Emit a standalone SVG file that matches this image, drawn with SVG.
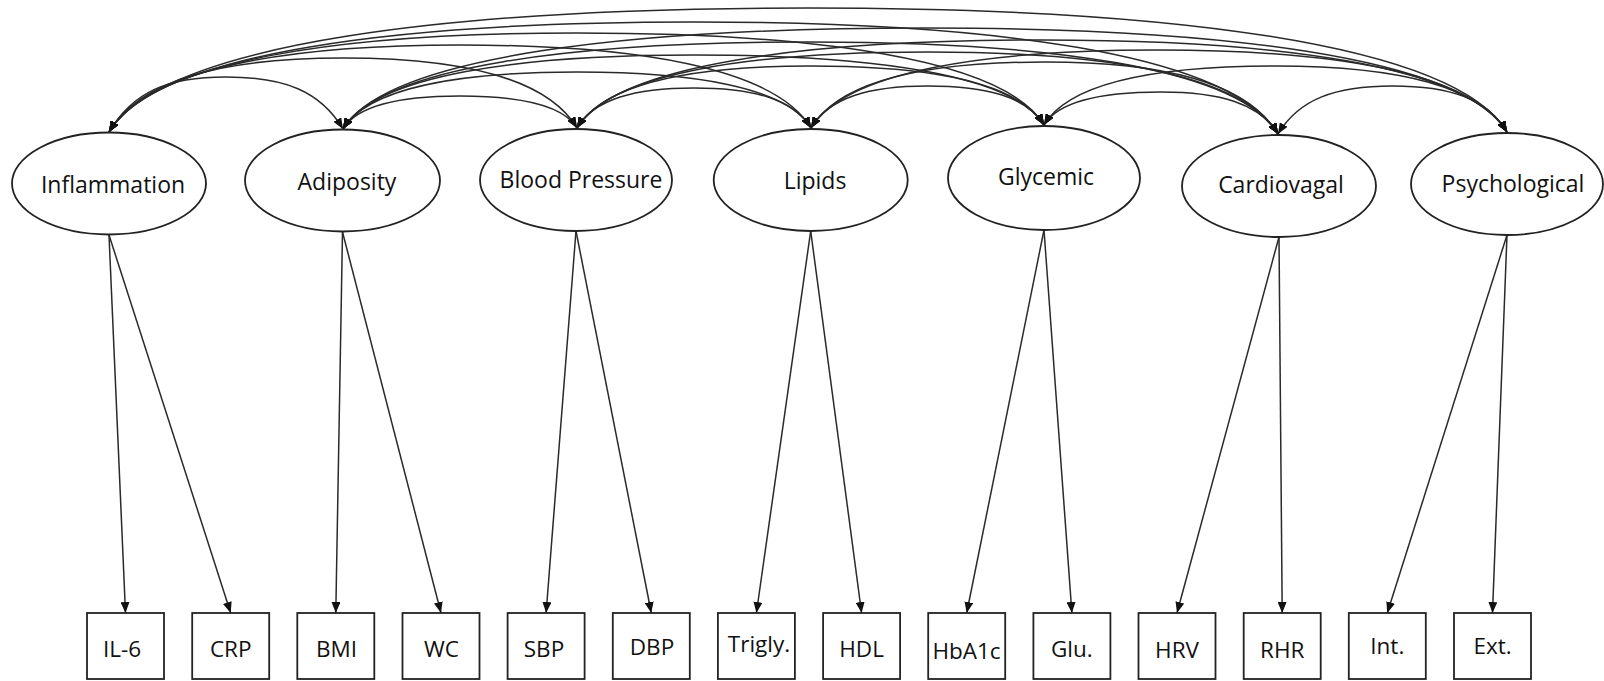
<svg xmlns="http://www.w3.org/2000/svg" width="1604" height="681" viewBox="0 0 1604 681">
<style>
.lat{fill:#fff;stroke:#222;stroke-width:1.8}
.obs{fill:#fff;stroke:#222;stroke-width:1.8}
.t{font-family:"Open Sans","Liberation Sans",sans-serif;font-size:23px;fill:#111;text-anchor:middle}
.b{font-size:22.5px}
.cov{fill:none;stroke:#2a2a2a;stroke-width:1.5;marker-start:url(#ah);marker-end:url(#ah)}
.ld{fill:none;stroke:#2a2a2a;stroke-width:1.5;marker-end:url(#ah)}
</style>
<defs>
<marker id="ah" viewBox="0 0 11 9" refX="11" refY="4.5" markerWidth="11" markerHeight="9" markerUnits="userSpaceOnUse" orient="auto-start-reverse">
<path d="M0,0 L11,4.5 L0,9 z" fill="#111"/>
</marker>
</defs>
<rect width="1604" height="681" fill="#fff"/>
<g id="connectors">
<path class="cov" d="M109,132 C133.1,91.8 167.5,77 226,77 C284.5,77 320.2,91 343,129"/>
<path class="cov" d="M109,132 C141.4,78 226,58 343,58 C460,58 546.3,76.9 577,128"/>
<path class="cov" d="M109,132 C147.1,68.5 284.5,45 460,45 C635.5,45 774.6,67.4 811,128"/>
<path class="cov" d="M109,132 C152.4,59.7 342.75,33 576.5,33 C810.25,33 1003.7,57.8 1044,125"/>
<path class="cov" d="M109,132 C157.2,51.7 401.25,22 693.5,22 C985.75,22 1228.9,52.2 1278,134"/>
<path class="cov" d="M109,132 C163.3,41.5 458.5,8 808,8 C1157.5,8 1452.7,41.5 1507,132"/>
<path class="cov" d="M343,129 C357.5,104.9 401.5,96 460,96 C518.5,96 563,104.6 577,128"/>
<path class="cov" d="M343,129 C368,87.4 460,72 577,72 C694,72 786.5,87.1 811,128"/>
<path class="cov" d="M343,129 C375.4,75 518.25,55 693.5,55 C868.75,55 1013.3,73.9 1044,125"/>
<path class="cov" d="M343,129 C381.1,65.5 576.75,42 810.5,42 C1044.25,42 1237.7,66.8 1278,134"/>
<path class="cov" d="M343,129 C387.2,55.3 634,28 925,28 C1216,28 1461.5,56.1 1507,132"/>
<path class="cov" d="M577,128 C594.5,98.8 635.5,88 694,88 C752.5,88 793.5,98.8 811,128"/>
<path class="cov" d="M577,128 C604.2,82.7 693.75,66 810.5,66 C927.25,66 1018.2,81.9 1044,125"/>
<path class="cov" d="M577,128 C610.3,72.5 752.25,52 927.5,52 C1102.75,52 1242.1,74.1 1278,134"/>
<path class="cov" d="M577,128 C615.5,63.8 809.5,40 1042,40 C1274.5,40 1466.7,64.8 1507,132"/>
<path class="cov" d="M811,128 C829.4,97.3 869.25,86 927.5,86 C985.75,86 1026.9,96.5 1044,125"/>
<path class="cov" d="M811,128 C839.9,79.8 927.75,62 1044.5,62 C1161.25,62 1246.5,81.4 1278,134"/>
<path class="cov" d="M811,128 C845.2,71.1 985,50 1159,50 C1333,50 1471.1,72.1 1507,132"/>
<path class="cov" d="M1044,125 C1058.5,100.9 1102.5,92 1161,92 C1219.5,92 1259.6,103.3 1278,134"/>
<path class="cov" d="M1044,125 C1069.8,81.9 1159.75,66 1275.5,66 C1391.25,66 1478.1,83.8 1507,132"/>
<path class="cov" d="M1278,134 C1299,99 1335.25,86 1392.5,86 C1449.75,86 1486.9,98.4 1507,132"/>
<line class="ld" x1="109" y1="235" x2="125.5" y2="613"/>
<line class="ld" x1="109" y1="235" x2="230.7" y2="613"/>
<line class="ld" x1="342.5" y1="232" x2="335.8" y2="613"/>
<line class="ld" x1="342.5" y1="232" x2="441" y2="613"/>
<line class="ld" x1="576" y1="231" x2="546.1" y2="613"/>
<line class="ld" x1="576" y1="231" x2="651.3" y2="613"/>
<line class="ld" x1="810.7" y1="231" x2="756.4" y2="613"/>
<line class="ld" x1="810.7" y1="231" x2="861.6" y2="613"/>
<line class="ld" x1="1044" y1="230" x2="966.7" y2="613"/>
<line class="ld" x1="1044" y1="230" x2="1071.9" y2="613"/>
<line class="ld" x1="1279" y1="237" x2="1177" y2="613"/>
<line class="ld" x1="1279" y1="237" x2="1282.2" y2="613"/>
<line class="ld" x1="1507" y1="235" x2="1387.3" y2="613"/>
<line class="ld" x1="1507" y1="235" x2="1492.5" y2="613"/>
</g>
<g id="inflammation"><ellipse class="lat" cx="109" cy="183.5" rx="97" ry="51"/><text class="t" x="113" y="193">Inflammation</text></g>
<g id="adiposity"><ellipse class="lat" cx="342.5" cy="180.5" rx="97.5" ry="51"/><text class="t" x="347" y="190">Adiposity</text></g>
<g id="bloodpressure"><ellipse class="lat" cx="576" cy="180" rx="96" ry="51"/><text class="t" x="581" y="188">Blood Pressure</text></g>
<g id="lipids"><ellipse class="lat" cx="810.7" cy="180" rx="97" ry="51"/><text class="t" x="815" y="189">Lipids</text></g>
<g id="glycemic"><ellipse class="lat" cx="1044" cy="178" rx="96" ry="52"/><text class="t" x="1046" y="185">Glycemic</text></g>
<g id="cardiovagal"><ellipse class="lat" cx="1279" cy="186" rx="97" ry="51"/><text class="t" x="1281" y="193">Cardiovagal</text></g>
<g id="psychological"><ellipse class="lat" cx="1507" cy="184" rx="96" ry="51"/><text class="t" x="1513" y="192">Psychological</text></g>
<g id="il6"><rect class="obs" x="87" y="613" width="77" height="66"/><text class="t b" x="122" y="657">IL-6</text></g>
<g id="crp"><rect class="obs" x="192.2" y="613" width="77" height="66"/><text class="t b" x="230.7" y="657">CRP</text></g>
<g id="bmi"><rect class="obs" x="297.3" y="613" width="77" height="66"/><text class="t b" x="336.5" y="657">BMI</text></g>
<g id="wc"><rect class="obs" x="402.5" y="613" width="77" height="66"/><text class="t b" x="441.5" y="657">WC</text></g>
<g id="sbp"><rect class="obs" x="507.6" y="613" width="77" height="66"/><text class="t b" x="544" y="657">SBP</text></g>
<g id="dbp"><rect class="obs" x="612.8" y="613" width="77" height="66"/><text class="t b" x="652" y="655">DBP</text></g>
<g id="trigly"><rect class="obs" x="717.9" y="613" width="77" height="66"/><text class="t b" x="759" y="652">Trigly.</text></g>
<g id="hdl"><rect class="obs" x="823.1" y="613" width="77" height="66"/><text class="t b" x="861.6" y="657">HDL</text></g>
<g id="hba1c"><rect class="obs" x="928.2" y="613" width="77" height="66"/><text class="t b" x="966.5" y="659">HbA1c</text></g>
<g id="glu"><rect class="obs" x="1033.4" y="613" width="77" height="66"/><text class="t b" x="1071.9" y="657">Glu.</text></g>
<g id="hrv"><rect class="obs" x="1138.5" y="613" width="77" height="66"/><text class="t b" x="1177" y="658">HRV</text></g>
<g id="rhr"><rect class="obs" x="1243.7" y="613" width="77" height="66"/><text class="t b" x="1282.2" y="658">RHR</text></g>
<g id="int"><rect class="obs" x="1348.8" y="613" width="77" height="66"/><text class="t b" x="1387.3" y="654">Int.</text></g>
<g id="ext"><rect class="obs" x="1454" y="613" width="77" height="66"/><text class="t b" x="1492.5" y="654">Ext.</text></g>
</svg>
